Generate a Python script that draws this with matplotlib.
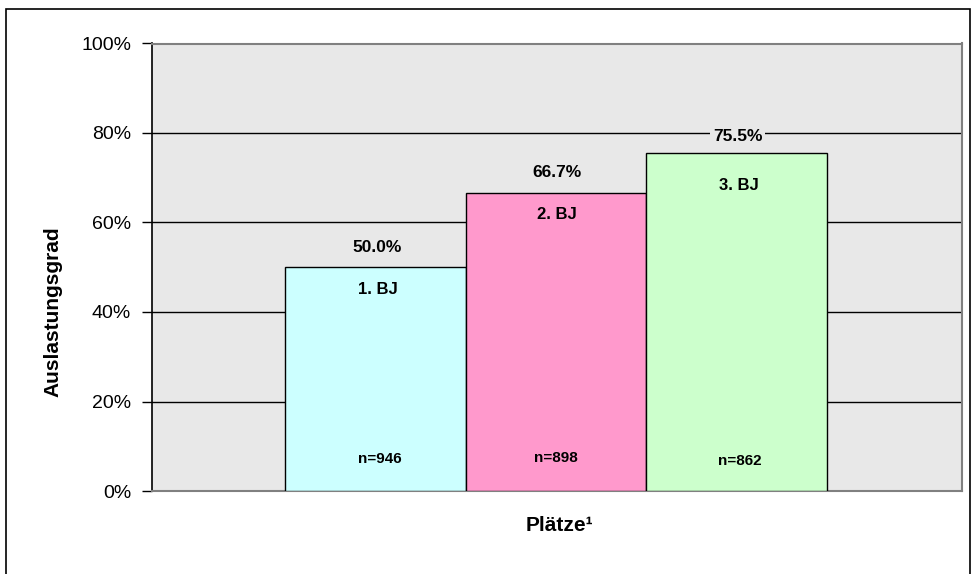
import matplotlib
matplotlib.use("Agg")
import matplotlib.pyplot as plt
from matplotlib.patches import Rectangle

plt.rcParams["font.family"] = ["Liberation Sans", "DejaVu Sans"]

# data
years = ["1. BJ", "2. BJ", "3. BJ"]
utilisation = [50.0, 66.7, 75.5]
counts = [946, 898, 862]
bar_colors = ["#ccffff", "#ff99cc", "#ccffcc"]
y_ticks = [0, 20, 40, 60, 80, 100]

PX = 0.72  # points per pixel at dpi=100

fig = plt.figure(figsize=(9.71, 5.74), dpi=100)
ax = fig.add_axes([152 / 971, 83 / 574, 810 / 971, 447.5 / 574])
ax.set_facecolor("#e8e8e8")

# outer frame of the chart object
fig.patches.append(Rectangle((6 / 971, -0.02), 964 / 971, (574 - 9) / 574 + 0.02,
                             transform=fig.transFigure, fill=False,
                             edgecolor="black", lw=1.2, clip_on=False))

xs = list(range(len(years)))
ax.bar(xs, utilisation, width=1.0, color=bar_colors, edgecolor="black",
       linewidth=1.0, zorder=3)

ax.set_xlim(-1.235, 3.246)
ax.set_ylim(0, 100)
ax.set_yticks(y_ticks)
ax.set_yticklabels([f"{t}%" for t in y_ticks], fontsize=14)
ax.set_xticks([])
ax.yaxis.grid(True, color="black", lw=1.0, zorder=1)
ax.set_axisbelow(True)
ax.tick_params(axis="y", length=7, width=1, direction="out", pad=8)

for side in ("top", "right", "bottom"):
    ax.spines[side].set_color("#808080")
    ax.spines[side].set_linewidth(1.5)
ax.spines["left"].set_color("black")
ax.spines["left"].set_linewidth(1.2)

# label placement relative to bar top / bar base, in pixels (dx, dy)
pct_off = [(2, 20), (1, 20), (1, 17)]
name_off = [(3, -22), (1, -22), (2, -32)]
n_off = [(5, 32), (0, 33), (3, 30)]
for x, v, name, n, po, no, nn in zip(xs, utilisation, years, counts,
                                     pct_off, name_off, n_off):
    ax.annotate(f"{v:.1f}%", (x, v), xytext=(po[0] * PX, po[1] * PX),
                textcoords="offset points", ha="center", va="center",
                fontsize=12.5, fontweight="bold", zorder=5,
                bbox=dict(boxstyle="square,pad=0.15", fc="#e8e8e8", ec="none"))
    ax.annotate(name, (x, v), xytext=(no[0] * PX, no[1] * PX),
                textcoords="offset points", ha="center", va="center",
                fontsize=12, fontweight="bold", zorder=5)
    ax.annotate(f"n={n}", (x, 0), xytext=(nn[0] * PX, nn[1] * PX),
                textcoords="offset points", ha="center", va="center",
                fontsize=11, fontweight="bold", zorder=5)

ax.set_ylabel("Auslastungsgrad", fontsize=15, fontweight="bold", va="center")
ax.yaxis.set_label_coords(-0.122, 0.40)
ax.set_xlabel("Plätze¹", fontsize=15, fontweight="bold", va="center")
ax.xaxis.set_label_coords(0.503, -0.078)

fig.savefig("out.png", dpi=100)
